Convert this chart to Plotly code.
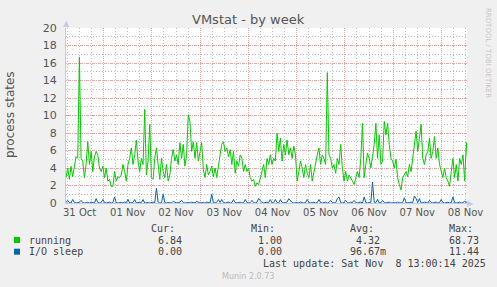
import pandas as pd
import plotly.graph_objects as go

# ---------------- data ----------------
start_time = "2025-10-31 05:15"
step = "50min"

running = [
    2.9, 4.0, 2.7, 4.2, 3.0, 4.4, 5.3, 5.1, 16.7, 5.1,
    4.8, 2.9, 4.4, 7.0, 4.4, 5.9, 3.6, 5.3, 5.9, 5.5,
    4.0, 3.6, 4.2, 2.9, 4.0, 2.5, 2.7, 1.9, 1.9, 3.6,
    2.5, 3.0, 2.9, 3.2, 4.4, 3.6, 2.5, 4.4, 5.1, 6.3,
    4.4, 5.5, 7.2, 4.8, 3.6, 5.1, 4.4, 10.7, 3.2, 4.8,
    9.0, 2.9, 2.7, 5.1, 6.3, 4.4, 2.7, 5.1, 3.6, 2.9,
    4.4, 2.5, 3.2, 5.1, 6.1, 4.8, 5.5, 4.4, 6.9, 5.1,
    6.7, 4.2, 5.5, 10.1, 9.3, 5.9, 7.0, 5.1, 6.9, 4.8,
    5.9, 6.9, 3.8, 2.9, 4.4, 3.2, 3.6, 4.2, 3.0, 4.0,
    2.9, 4.4, 5.5, 6.7, 7.0, 5.9, 6.3, 5.3, 6.1, 4.4,
    5.9, 3.4, 4.8, 4.2, 5.5, 5.1, 3.6, 4.4, 3.6, 4.0,
    2.9, 2.5, 2.7, 1.9, 2.3, 2.1, 2.9, 3.6, 4.4, 2.9,
    5.1, 4.4, 5.5, 4.4, 5.1, 4.8, 8.0, 5.9, 7.4, 4.8,
    6.7, 5.5, 7.2, 5.5, 6.3, 5.1, 6.5, 5.5, 2.5, 3.6,
    4.8, 4.0, 2.9, 4.4, 3.4, 2.9, 4.4, 2.5, 3.6, 4.4,
    5.5, 6.3, 4.4, 5.5, 5.1, 4.4, 14.9, 5.5, 5.1, 4.0,
    4.4, 3.4, 5.1, 4.4, 6.7, 4.0, 2.5, 3.6, 2.5, 3.2,
    2.9, 2.5, 2.1, 2.9, 3.6, 2.9, 5.1, 9.1, 2.9, 4.4,
    5.7, 5.1, 4.0, 5.3, 6.7, 9.1, 5.1, 7.8, 4.4, 4.8,
    9.3, 7.8, 9.1, 6.7, 5.1, 4.8, 4.0, 5.0, 2.9, 2.1,
    1.5, 2.9, 3.2, 3.6, 3.0, 4.4, 3.6, 5.1, 6.7, 8.2,
    5.9, 7.8, 9.0, 5.1, 4.4, 5.5, 5.9, 7.4, 5.1, 5.9,
    7.6, 5.1, 6.3, 4.4, 3.6, 2.9, 4.0, 2.9, 2.5, 1.9,
    3.6, 5.1, 2.9, 4.4, 2.5, 5.1, 4.4, 5.5, 2.5, 6.9,
    4.4, 4.2,
]

io_sleep = [
    0.05, 0.3, 0.05, 0.0, 0.4, 0.05, 0.0, 0.05, 0.1, 0.3,
    0.05, 0.0, 0.05, 0.05, 0.0, 0.1, 0.05, 0.0, 0.5, 0.05,
    0.0, 0.05, 0.4, 0.05, 0.0, 0.05, 0.1, 0.0, 0.05, 0.7,
    0.05, 0.0, 0.05, 0.05, 0.0, 0.1, 0.05, 0.4, 0.0, 0.05,
    0.05, 0.4, 0.0, 0.05, 0.1, 0.05, 0.4, 0.0, 0.05, 0.05,
    0.0, 0.05, 0.1, 0.05, 1.7, 0.1, 0.0, 0.05, 1.0, 0.05,
    0.0, 0.05, 0.05, 0.0, 0.2, 0.05, 0.0, 0.05, 0.1, 0.3,
    0.05, 0.0, 0.05, 0.05, 0.0, 0.1, 0.05, 0.0, 0.2, 0.05,
    0.0, 0.05, 0.05, 0.0, 0.1, 0.05, 0.0, 1.0, 0.05, 0.0,
    0.1, 0.4, 0.05, 0.4, 0.05, 0.0, 0.05, 0.1, 0.0, 0.05,
    0.4, 0.05, 0.0, 0.05, 0.1, 0.0, 0.05, 0.4, 0.05, 0.0,
    0.05, 0.3, 0.05, 0.0, 0.1, 0.5, 0.3, 0.05, 0.0, 0.05,
    0.1, 0.05, 0.4, 0.0, 0.05, 0.4, 0.05, 0.0, 0.4, 0.05,
    0.0, 0.05, 0.1, 0.5, 0.3, 0.05, 0.0, 0.05, 0.05, 0.0,
    0.1, 0.05, 0.0, 0.05, 0.4, 0.05, 0.0, 0.05, 0.1, 0.0,
    0.05, 0.4, 0.05, 0.0, 0.05, 0.1, 0.0, 0.05, 0.3, 0.05,
    0.0, 0.05, 0.5, 0.7, 0.05, 0.0, 0.05, 0.3, 0.05, 0.0,
    0.1, 0.05, 0.3, 0.05, 0.0, 0.05, 0.1, 0.0, 0.7, 0.05,
    0.0, 0.05, 0.1, 2.4, 0.1, 0.05, 0.4, 0.0, 0.05, 0.3,
    0.05, 0.0, 0.05, 0.1, 0.0, 0.05, 0.05, 0.0, 0.1, 0.05,
    0.0, 0.05, 0.6, 0.05, 0.0, 0.05, 0.1, 0.05, 0.8, 0.5,
    0.05, 0.5, 0.0, 0.05, 0.1, 0.05, 0.0, 0.3, 0.05, 0.0,
    0.05, 0.1, 0.0, 0.05, 0.4, 0.05, 0.0, 0.05, 0.1, 0.0,
    0.05, 0.7, 0.05, 0.0, 0.05, 0.1, 0.0, 0.05, 0.2, 0.05,
    0.0, 0.05,
]

series_names = ["running", "I/O sleep"]
series_colors = ["#00CC00", "#0066B3"]
stat_headers = ["Cur:", "Min:", "Avg:", "Max:"]
stats_running = ["6.84", "1.00", "4.32", "68.73"]
stats_io = ["0.00", "0.00", "96.67m", "11.44"]
y_ticks = [0, 2, 4, 6, 8, 10, 12, 14, 16, 18, 20]

times = pd.date_range(start_time, periods=len(running), freq=step)

# ---------------- figure ----------------
W, H = 497, 287
L, R, T, B = 66, 30, 28, 84
PW, PH = W - L - R, H - T - B


def px(x):
    return (x - L) / PW


def py(y):
    return (H - B - y) / PH


fig = go.Figure()
fig.add_trace(go.Scatter(x=times, y=running, mode="lines", name=series_names[0],
                         line=dict(color=series_colors[0], width=1)))
fig.add_trace(go.Scatter(x=times, y=io_sleep, mode="lines", name=series_names[1],
                         line=dict(color=series_colors[1], width=1)))

red_grid = "#EFA3A3"
gray_grid = "#BDBDBD"
axis_col = "#C8C8EE"
text_col = "#555555"

fig.update_layout(
    width=W, height=H,
    margin=dict(l=L, r=R, t=T, b=B, pad=0),
    paper_bgcolor="#F0F0F0",
    plot_bgcolor="#FFFFFF",
    showlegend=False,
    font=dict(family="DejaVu Sans", size=10, color=text_col),
    xaxis=dict(
        type="date",
        range=["2025-10-31 05:15", "2025-11-08 12:45"],
        tick0="2025-11-01 00:00",
        dtick=86400000,
        ticklabelmode="period",
        tickformat="%d %b",
        showgrid=True, gridcolor=red_grid, griddash="1px,1px", gridwidth=1,
        minor=dict(dtick=21600000, tick0="2025-11-01 00:00", showgrid=True,
                   gridcolor=gray_grid, griddash="1px,2px", gridwidth=1),
        showline=True, linecolor=axis_col, linewidth=1,
        zeroline=False, ticks="",
        tickfont=dict(family="DejaVu Sans", size=10, color=text_col),
    ),
    yaxis=dict(
        range=[0, 20],
        tickvals=y_ticks,
        showgrid=True, gridcolor=red_grid, griddash="1px,1px", gridwidth=1,
        minor=dict(dtick=1, showgrid=True, gridcolor=gray_grid,
                   griddash="1px,2px", gridwidth=1),
        showline=True, linecolor=axis_col, linewidth=1,
        zeroline=False, ticks="", ticklabelstandoff=6,
        tickfont=dict(family="DejaVu Sans", size=11, color=text_col),
    ),
)

ann = []
# title
ann.append(dict(text="VMstat - by week", x=px(248), y=py(19.5), xref="paper", yref="paper",
                showarrow=False, xanchor="center", yanchor="middle",
                font=dict(family="DejaVu Sans", size=13, color="#555555")))
# y title
ann.append(dict(text="process states", x=px(10), y=py(115), xref="paper", yref="paper",
                showarrow=False, textangle=-90, xanchor="center", yanchor="middle",
                font=dict(family="DejaVu Sans", size=12, color="#555555")))
# rrdtool credit
ann.append(dict(text="RRDTOOL / TOBI OETIKER", x=px(488), y=py(53), xref="paper", yref="paper",
                showarrow=False, textangle=90, xanchor="center", yanchor="middle",
                font=dict(family="DejaVu Sans", size=7, color="#C8C8C8")))
# axis arrows
ann.append(dict(text="▲", x=px(66.5), y=py(24), xref="paper", yref="paper", showarrow=False,
                xanchor="center", yanchor="middle",
                font=dict(family="DejaVu Sans", size=8, color=axis_col)))
ann.append(dict(text="▶", x=px(470), y=py(203), xref="paper", yref="paper", showarrow=False,
                xanchor="center", yanchor="middle",
                font=dict(family="DejaVu Sans", size=8, color=axis_col)))

mono = dict(family="DejaVu Sans Mono", size=10, color="#444444")


def txt(s, x, y, anchor="left", font=mono):
    ann.append(dict(text=s.replace(" ", "&nbsp;"), x=px(x), y=py(y), xref="paper", yref="paper",
                    showarrow=False, xanchor=anchor, yanchor="middle", font=font))


header_x = [149, 249, 348, 447]
for h, hx in zip(stat_headers, header_x):
    txt(h, hx, 228.5)

txt(series_names[0], 26.5, 240)
txt(series_names[1], 26.5, 251.7)
row_x = [[156, 256, 354, 447], [156, 256, 348, 447]]
for vals, xs, yy in [(stats_running, row_x[0], 240), (stats_io, row_x[1], 251.7)]:
    for v, vx in zip(vals, xs):
        txt(v, vx, yy)

txt("Last update: Sat Nov  8 13:00:14 2025", 261, 263.5)
txt("Munin 2.0.73", 248, 276.5, anchor="center",
    font=dict(family="DejaVu Sans", size=8, color="#BBBBBB"))

fig.update_layout(annotations=ann)

# legend swatches
shapes = []
for col, yc in zip(series_colors, [240, 251.7]):
    shapes.append(dict(type="rect", xref="paper", yref="paper",
                       x0=px(14), x1=px(20), y0=py(yc + 3), y1=py(yc - 3),
                       fillcolor=col, line=dict(width=0)))
fig.update_layout(shapes=shapes)

fig.write_html("out.html")
